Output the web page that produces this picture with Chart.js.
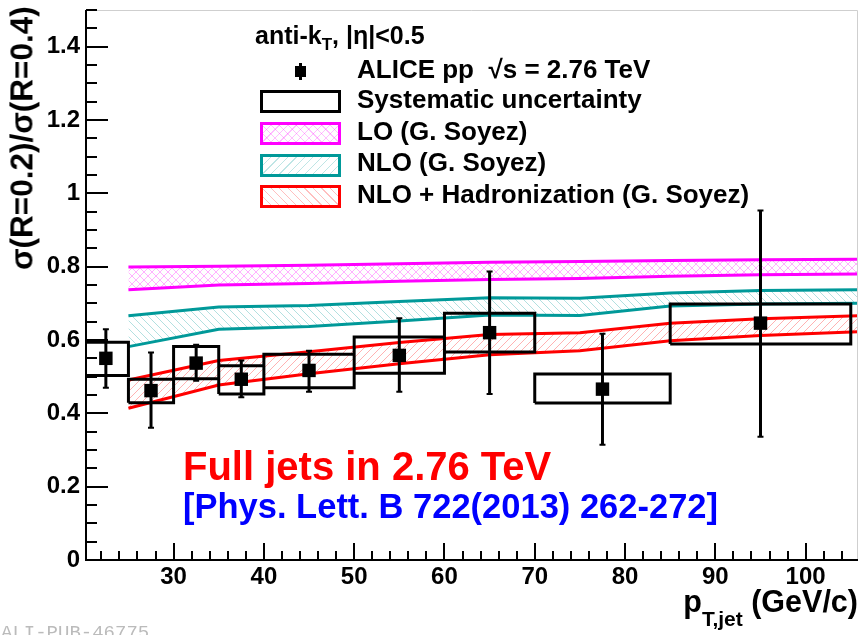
<!DOCTYPE html>
<html>
<head>
<meta charset="utf-8">
<script src="https://cdn.jsdelivr.net/npm/chart.js@4.4.1/dist/chart.umd.min.js"></script>
<style>
  html, body { margin: 0; padding: 0; background: #fff; }
  #wrap { position: relative; width: 862px; height: 635px; overflow: hidden;
          font-family: "Liberation Sans", Arial, sans-serif; font-weight: bold; color: #000; }
  #c { position: absolute; left: 0; top: 0; }
  .txt { position: absolute; white-space: nowrap; line-height: 1; }
  .sw { position: absolute; left: 260px; width: 75px; height: 17px; border: 3px solid #000; background: #fff; }
  sub { line-height: 0; }
</style>
</head>
<body>
<div id="wrap">
  <canvas id="c" width="862" height="635"></canvas>

  <div class="txt" id="ytitle" style="left:7px; top:8px; height:262px; font-size:31.5px; writing-mode:vertical-rl; transform:rotate(180deg); text-align:end;">σ(R=0.2)/σ(R=0.4)</div>
  <div class="txt" style="right:4px; top:586px; font-size:30.5px;">p<sub style="font-size:21px; vertical-align:-14px;">T,jet</sub> (GeV/c)</div>

  <div class="txt" style="left:255px; top:23px; font-size:25px;">anti-k<sub style="font-size:17px; vertical-align:-6px;">T</sub>, |η|&lt;0.5</div>
  <div class="txt" style="left:357px; top:56px; font-size:26px;">ALICE pp &nbsp;√s = 2.76 TeV</div>
  <div class="txt" style="left:357px; top:86px; font-size:26px;">Systematic uncertainty</div>
  <div class="txt" style="left:357px; top:118px; font-size:26px;">LO (G. Soyez)</div>
  <div class="txt" style="left:357px; top:149px; font-size:26px;">NLO (G. Soyez)</div>
  <div class="txt" style="left:357px; top:181px; font-size:26px;">NLO + Hadronization (G. Soyez)</div>

  <div style="position:absolute; left:299px; top:63px; width:3px; height:17px; background:#000;"></div>
  <div style="position:absolute; left:295px; top:66px; width:11px; height:11px; background:#000;"></div>
  <div class="sw" style="top:90px;"></div>
  <div class="sw" style="top:122px; border-color:#ff00ff; background:
      repeating-linear-gradient(45deg, transparent 0 5px, rgba(255,0,255,0.25) 5px 6px),
      repeating-linear-gradient(-45deg, transparent 0 5px, rgba(255,0,255,0.25) 5px 6px);"></div>
  <div class="sw" style="top:154px; border-color:#009999; background:
      repeating-linear-gradient(-45deg, transparent 0 5px, rgba(0,153,153,0.25) 5px 6px);"></div>
  <div class="sw" style="top:185px; border-color:#ff0000; background:
      repeating-linear-gradient(45deg, transparent 0 5px, rgba(255,0,0,0.25) 5px 6px);"></div>

  <div class="txt" style="left:183px; top:446px; font-size:40px; color:#ff0000;">Full jets in 2.76 TeV</div>
  <div class="txt" style="left:183px; top:489px; font-size:34.5px; color:#0000ff;">[Phys. Lett. B 722(2013) 262-272]</div>
  <div class="txt" style="left:1px; top:624px; font-size:19px; font-weight:normal; font-family:'Liberation Mono', monospace; color:#bbbbbb;">ALI-PUB-46775</div>
</div>

<script>
// measured jet bins
const binLo = [20, 25, 30, 35, 40, 50, 60, 70, 85];
const binHi = [25, 30, 35, 40, 50, 60, 70, 85, 105];
const ptCenter = [22.5, 27.5, 32.5, 37.5, 45, 55, 65, 77.5, 95];
const ratio = [0.550, 0.462, 0.537, 0.493, 0.517, 0.558, 0.620, 0.466, 0.646];
const statUp = [0.629, 0.566, 0.587, 0.544, 0.571, 0.659, 0.787, 0.617, 0.953];
const statDown = [0.470, 0.361, 0.489, 0.444, 0.459, 0.459, 0.453, 0.314, 0.336];
const sysUp = [0.594, 0.493, 0.582, 0.530, 0.561, 0.608, 0.673, 0.507, 0.698];
const sysDown = [0.503, 0.429, 0.494, 0.453, 0.470, 0.509, 0.567, 0.428, 0.589];

// theory bands (G. Soyez)
const theoryX = [25, 35, 45, 55, 65, 75, 85, 95, 106];
const loHigh = [0.799, 0.801, 0.804, 0.808, 0.812, 0.814, 0.817, 0.819, 0.820];
const loLow = [0.737, 0.750, 0.754, 0.760, 0.765, 0.768, 0.774, 0.778, 0.780];
const nloHigh = [0.666, 0.690, 0.694, 0.705, 0.715, 0.714, 0.728, 0.735, 0.737];
const nloLow = [0.582, 0.629, 0.637, 0.652, 0.668, 0.667, 0.693, 0.698, 0.700];
const hadHigh = [0.491, 0.544, 0.568, 0.593, 0.615, 0.620, 0.646, 0.658, 0.666];
const hadLow = [0.414, 0.477, 0.508, 0.535, 0.560, 0.571, 0.598, 0.612, 0.623];

const xTickVals = [30, 40, 50, 60, 70, 80, 90, 100];
const yTickVals = [0, 0.2, 0.4, 0.6, 0.8, 1, 1.2, 1.4];

const canvas = document.getElementById('c');
const ctx = canvas.getContext('2d');

function hatch(color, dirs) {
    const s = 8;
    const tile = document.createElement('canvas');
    tile.width = s; tile.height = s;
    const g = tile.getContext('2d');
    g.strokeStyle = color;
    g.lineWidth = 1;
    g.beginPath();
    for (const off of [-s, 0, s]) {
        if (dirs.includes('/')) { g.moveTo(off, s); g.lineTo(off + s, 0); }
        if (dirs.includes('\\')) { g.moveTo(off, 0); g.lineTo(off + s, s); }
    }
    g.stroke();
    return ctx.createPattern(tile, 'repeat');
}

const pts = (xs, ys) => xs.map((x, i) => ({ x: x, y: ys[i] }));

// systematic boxes as one broken outline
const boxPts = [];
binLo.forEach((lo, i) => {
    const hi = binHi[i];
    boxPts.push({ x: lo, y: sysDown[i] }, { x: lo, y: sysUp[i] }, { x: hi, y: sysUp[i] },
                { x: hi, y: sysDown[i] }, { x: lo, y: sysDown[i] }, { x: hi, y: null });
});

const band = (ys, color, order, fillPat) => ({
    data: pts(theoryX, ys),
    showLine: true,
    borderColor: color,
    borderWidth: 3,
    pointRadius: 0,
    tension: 0,
    fill: fillPat ? '-1' : false,
    backgroundColor: fillPat || 'transparent',
    order: order
});

const rootAxes = {
    id: 'rootAxes',
    afterDatasetsDraw(chart) {
        const { ctx, scales: { x, y } } = chart;
        ctx.save();
        // stat error bars
        ctx.strokeStyle = '#000';
        ptCenter.forEach((pt, i) => {
            const px = x.getPixelForValue(pt);
            const t = y.getPixelForValue(statUp[i]);
            const b = y.getPixelForValue(statDown[i]);
            ctx.lineWidth = 3;
            ctx.beginPath(); ctx.moveTo(px, t); ctx.lineTo(px, b); ctx.stroke();
            ctx.lineWidth = 2;
            ctx.beginPath();
            ctx.moveTo(px - 3, t); ctx.lineTo(px + 3, t);
            ctx.moveTo(px - 3, b); ctx.lineTo(px + 3, b);
            ctx.stroke();
        });
        ctx.restore();
    },
    afterDraw(chart) {
        const { ctx, chartArea: a, scales: { x, y } } = chart;
        ctx.save();
        ctx.strokeStyle = '#cfcfcf';
        ctx.lineWidth = 1;
        ctx.beginPath();
        ctx.moveTo(a.left, a.top + 0.5); ctx.lineTo(a.right - 0.5, a.top + 0.5); ctx.lineTo(a.right - 0.5, a.bottom);
        ctx.stroke();

        ctx.strokeStyle = '#000';
        ctx.lineWidth = 2;
        ctx.beginPath();
        ctx.moveTo(a.left, a.top); ctx.lineTo(a.left, a.bottom); ctx.lineTo(a.right, a.bottom);
        // y ticks, inward
        for (let k = 0; k <= 30; k++) {
            const py = Math.round(y.getPixelForValue(k * 0.05));
            const len = k % 4 === 0 ? 22 : 11;
            ctx.moveTo(a.left, py); ctx.lineTo(a.left + len, py);
        }
        // x ticks, inward
        for (let v = 22; v <= 104; v += 2) {
            const px = Math.round(x.getPixelForValue(v));
            const len = v % 10 === 0 ? 17 : 9;
            ctx.moveTo(px, a.bottom); ctx.lineTo(px, a.bottom - len);
        }
        ctx.stroke();
        ctx.restore();
    }
};

const tickFont = { family: 'Liberation Sans', size: 24, weight: 'bold' };
const noPad = s => { s.paddingTop = 0; s.paddingBottom = 0; s.paddingLeft = 0; s.paddingRight = 0; };

new Chart(canvas, {
    type: 'scatter',
    data: {
        datasets: [
            band(loHigh, '#ff00ff', 5, null),
            band(loLow, '#ff00ff', 5, hatch('rgba(255,0,255,0.3)', '/\\')),
            band(nloHigh, '#009999', 4, null),
            band(nloLow, '#009999', 4, hatch('rgba(0,153,153,0.3)', '\\')),
            band(hadHigh, '#ff0000', 3, null),
            band(hadLow, '#ff0000', 3, hatch('rgba(255,0,0,0.3)', '/')),
            {
                data: boxPts,
                showLine: true,
                spanGaps: false,
                borderColor: '#000',
                borderWidth: 3,
                pointRadius: 0,
                fill: false,
                order: 1
            },
            {
                data: pts(ptCenter, ratio),
                pointStyle: 'rect',
                pointRadius: 9.5,
                pointBackgroundColor: '#000',
                pointBorderWidth: 0,
                order: 0
            }
        ]
    },
    options: {
        responsive: false,
        animation: false,
        devicePixelRatio: 1,
        layout: { autoPadding: false, padding: { top: 10, right: 4, left: 0, bottom: 0 } },
        plugins: { legend: { display: false }, tooltip: { enabled: false } },
        scales: {
            x: {
                type: 'linear',
                min: 20.3,
                max: 105.8,
                grid: { display: false, drawTicks: false },
                border: { display: false },
                ticks: { font: tickFont, color: '#000', padding: 3, maxRotation: 0 },
                afterBuildTicks: s => { s.ticks = xTickVals.map(v => ({ value: v })); },
                afterFit: s => { s.height = 75; noPad(s); }
            },
            y: {
                min: 0,
                max: 1.5,
                grid: { display: false, drawTicks: false },
                border: { display: false },
                ticks: { font: tickFont, color: '#000', padding: 6,
                         callback: v => String(+v.toFixed(1)) },
                afterBuildTicks: s => { s.ticks = yTickVals.map(v => ({ value: v })); },
                afterFit: s => { s.width = 86; noPad(s); }
            }
        }
    },
    plugins: [rootAxes]
});
</script>
</body>
</html>
